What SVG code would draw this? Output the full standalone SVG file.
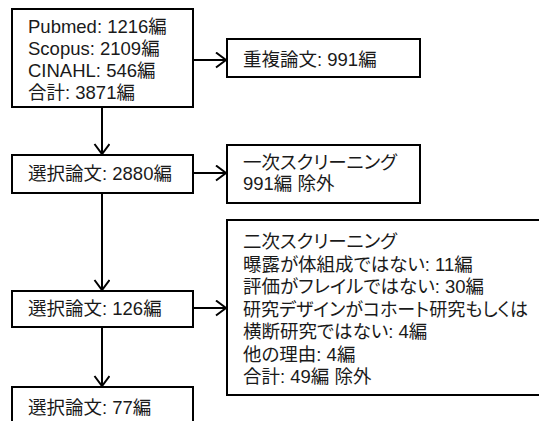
<svg xmlns="http://www.w3.org/2000/svg" width="539" height="421" viewBox="0 0 539 421">
<defs>
<style>
.box{fill:#fff;stroke:#000;stroke-width:2}
.t{font-family:"Liberation Sans","Noto Sans CJK JP",sans-serif;font-size:18.5px;fill:#1a1a1a;font-feature-settings:"palt"}
.c{stroke:#000;stroke-width:2;fill:none}
</style>
<marker id="ah" markerUnits="userSpaceOnUse" markerWidth="14" markerHeight="18" refX="11" refY="8" orient="auto">
<path d="M1,0.5 L11,8 L1,15.5" fill="none" stroke="#000" stroke-width="2"/>
</marker>
</defs>
<rect width="539" height="421" fill="#fff"/>
<g id="connectors">
<line class="c" x1="193" y1="60" x2="226" y2="60" marker-end="url(#ah)"/>
<line class="c" x1="102" y1="107" x2="102" y2="154" marker-end="url(#ah)"/>
<line class="c" x1="193" y1="173" x2="226" y2="173" marker-end="url(#ah)"/>
<line class="c" x1="102" y1="193" x2="102" y2="290" marker-end="url(#ah)"/>
<line class="c" x1="193" y1="308" x2="226" y2="308" marker-end="url(#ah)"/>
<line class="c" x1="102" y1="327" x2="102" y2="386" marker-end="url(#ah)"/>
</g>
<g id="n1">
<rect class="box" x="12" y="9" width="181" height="98"/>
<text class="t" x="28" y="33">Pubmed: 1216編</text>
<text class="t" x="28" y="55">Scopus: 2109編</text>
<text class="t" x="28" y="77">CINAHL: 546編</text>
<text class="t" x="28" y="99">合計: 3871編</text>
</g>
<g id="n_dup">
<rect class="box" x="227" y="39" width="193" height="38"/>
<text class="t" x="243" y="66">重複論文: 991編</text>
</g>
<g id="n2">
<rect class="box" x="12" y="155" width="181" height="38"/>
<text class="t" x="28" y="180">選択論文: 2880編</text>
</g>
<g id="n_ex1">
<rect class="box" x="227" y="145" width="193" height="58"/>
<text class="t" x="243" y="169">一次スクリーニング</text>
<text class="t" x="243" y="190">991編 除外</text>
</g>
<g id="n3">
<rect class="box" x="12" y="291" width="181" height="36"/>
<text class="t" x="28" y="315">選択論文: 126編</text>
</g>
<g id="n_ex2">
<rect class="box" x="227" y="220" width="316" height="175"/>
<text class="t" x="243" y="248">二次スクリーニング</text>
<text class="t" x="243" y="271">曝露が体組成ではない: 11編</text>
<text class="t" x="243" y="293">評価がフレイルではない: 30編</text>
<text class="t" x="243" y="316" textLength="285" lengthAdjust="spacingAndGlyphs">研究デザインがコホート研究もしくは</text>
<text class="t" x="243" y="338">横断研究ではない: 4編</text>
<text class="t" x="243" y="361">他の理由: 4編</text>
<text class="t" x="243" y="383">合計: 49編 除外</text>
</g>
<g id="n4">
<rect class="box" x="12" y="387" width="181" height="40"/>
<text class="t" x="28" y="414">選択論文: 77編</text>
</g>
</svg>
